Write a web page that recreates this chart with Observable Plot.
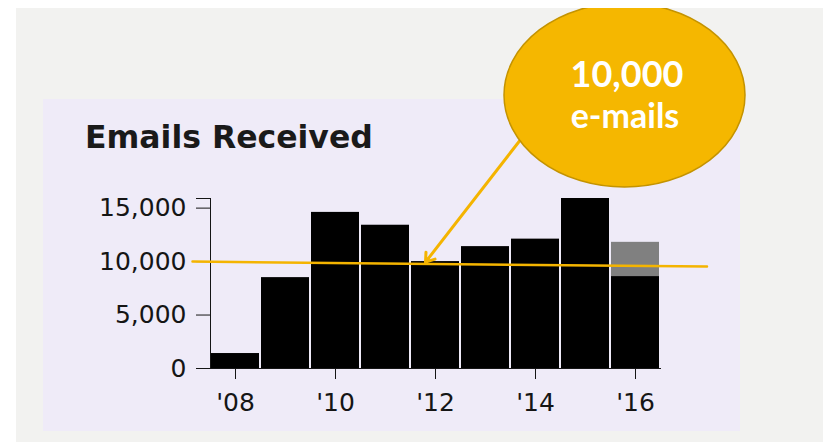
<!DOCTYPE html>
<html>
<head>
<meta charset="utf-8">
<script src="https://cdn.jsdelivr.net/npm/d3@7"></script>
<script src="https://cdn.jsdelivr.net/npm/@observablehq/plot@0.6"></script>
<style>
  html, body { margin: 0; padding: 0; background: #ffffff; }
  #wrap { position: relative; width: 823px; height: 442px; overflow: hidden; background: #ffffff; }
  #gray { position: absolute; left: 16px; top: 8px; right: 0; bottom: 0; background: #f2f2f0; }
  #panel { position: absolute; left: 43px; top: 99px; width: 697px; height: 332px; background: #efebf8; }
  #chart { position: absolute; left: 0; top: 0; }
  #chart svg { overflow: visible; }
  #chart g[aria-label="y-axis"] path, #chart g[aria-label="x-axis"] path { stroke-width: 2; stroke: #111; }
  #chart g[aria-label="y-axis"] line, #chart g[aria-label="x-axis"] line { stroke-width: 1.6; stroke: #222; }
  #overlay { position: absolute; left: 0; top: 0; pointer-events: none; }
</style>
</head>
<body>
<div id="wrap">
  <div id="gray"></div>
  <div id="panel"></div>
  <div id="chart"></div>
  <svg id="overlay" width="823" height="442" viewBox="0 0 823 442">
    <defs><clipPath id="clipTop"><rect x="0" y="8" width="823" height="434"></rect></clipPath></defs>
    <text x="85" y="148" font-family="DejaVu Sans" font-weight="700" font-size="31.5" fill="#1a1a1a">Emails Received</text>
    <g clip-path="url(#clipTop)">
      <ellipse cx="624.5" cy="95" rx="120.5" ry="92" fill="#f5b700" stroke="#c49300" stroke-width="1.5"></ellipse>
    </g>
    <text x="627" y="87" text-anchor="middle" font-family="Lato" font-weight="700" font-size="36" fill="#ffffff">10,000</text>
    <text x="625" y="128" text-anchor="middle" font-family="Lato" font-weight="700" font-size="34" fill="#ffffff">e-mails</text>
  </svg>
</div>
<script>
// ---- data ----
const years = [2008, 2009, 2010, 2011, 2012, 2013, 2014, 2015, 2016];
const received = [1400, 8500, 14600, 13400, 10000, 11400, 12100, 15900, 8600];
const projectedYears = [2016];
const projectedTotals = [11800];
const yTicks = [0, 5000, 10000, 15000];
const xTicks = [2008, 2010, 2012, 2014, 2016];
const xTickLabels = ["'08", "'10", "'12", "'14", "'16"];
// hand-drawn reference line and annotation arrow (data units)
const refLineYears = [2007.14, 2017.43];
const refLineValues = [10000, 9530];
const arrowYears = [2013.68, 2011.8];
const arrowValues = [21280, 9950];

const yMax = d3.max(received);
const bars = years.map((year, i) => ({year, value: received[i]}));
const proj = projectedYears.map((year, i) => ({
  year, lo: received[years.indexOf(year)], hi: projectedTotals[i]
}));
const refLine = refLineYears.map((year, i) => ({year, value: refLineValues[i]}));
const arrow = [{x1: arrowYears[0], y1: arrowValues[0], x2: arrowYears[1], y2: arrowValues[1]}];
const labelOf = new Map(xTicks.map((t, i) => [t, xTickLabels[i]]));

const chart = Plot.plot({
  width: 823,
  height: 442,
  marginLeft: 210,
  marginRight: 163,
  marginTop: 198,
  marginBottom: 74,
  style: {
    background: "transparent",
    fontFamily: "DejaVu Sans",
    fontSize: "25px",
    color: "#151515",
    overflow: "visible"
  },
  x: {
    type: "linear",
    domain: [years[0] - 0.5, years[years.length - 1] + 0.5],
    ticks: xTicks,
    tickFormat: d => labelOf.get(d),
    tickSize: 11,
    tickPadding: 14,
    line: true,
    label: null
  },
  y: {
    domain: [0, yMax],
    ticks: yTicks.concat([yMax]),
    tickFormat: d => yTicks.includes(d) ? d3.format(",")(d) : "",
    tickSize: 14,
    tickPadding: 10,
    line: true,
    label: null
  },
  marks: [
    Plot.rectY(bars, {x1: d => d.year - 0.5, x2: d => d.year + 0.5, y: "value", fill: "#000000", insetLeft: 1, insetRight: 1}),
    Plot.rectY(proj, {x1: d => d.year - 0.5, x2: d => d.year + 0.5, y1: "lo", y2: "hi", fill: "#808080", insetLeft: 1, insetRight: 1}),
    Plot.line(refLine, {x: "year", y: "value", stroke: "#f4b400", strokeWidth: 2.5}),
    Plot.arrow(arrow, {x1: "x1", y1: "y1", x2: "x2", y2: "y2", stroke: "#f4b400", strokeWidth: 3, headLength: 5, headAngle: 70})
  ]
});
document.getElementById("chart").appendChild(chart);
</script>
</body>
</html>
